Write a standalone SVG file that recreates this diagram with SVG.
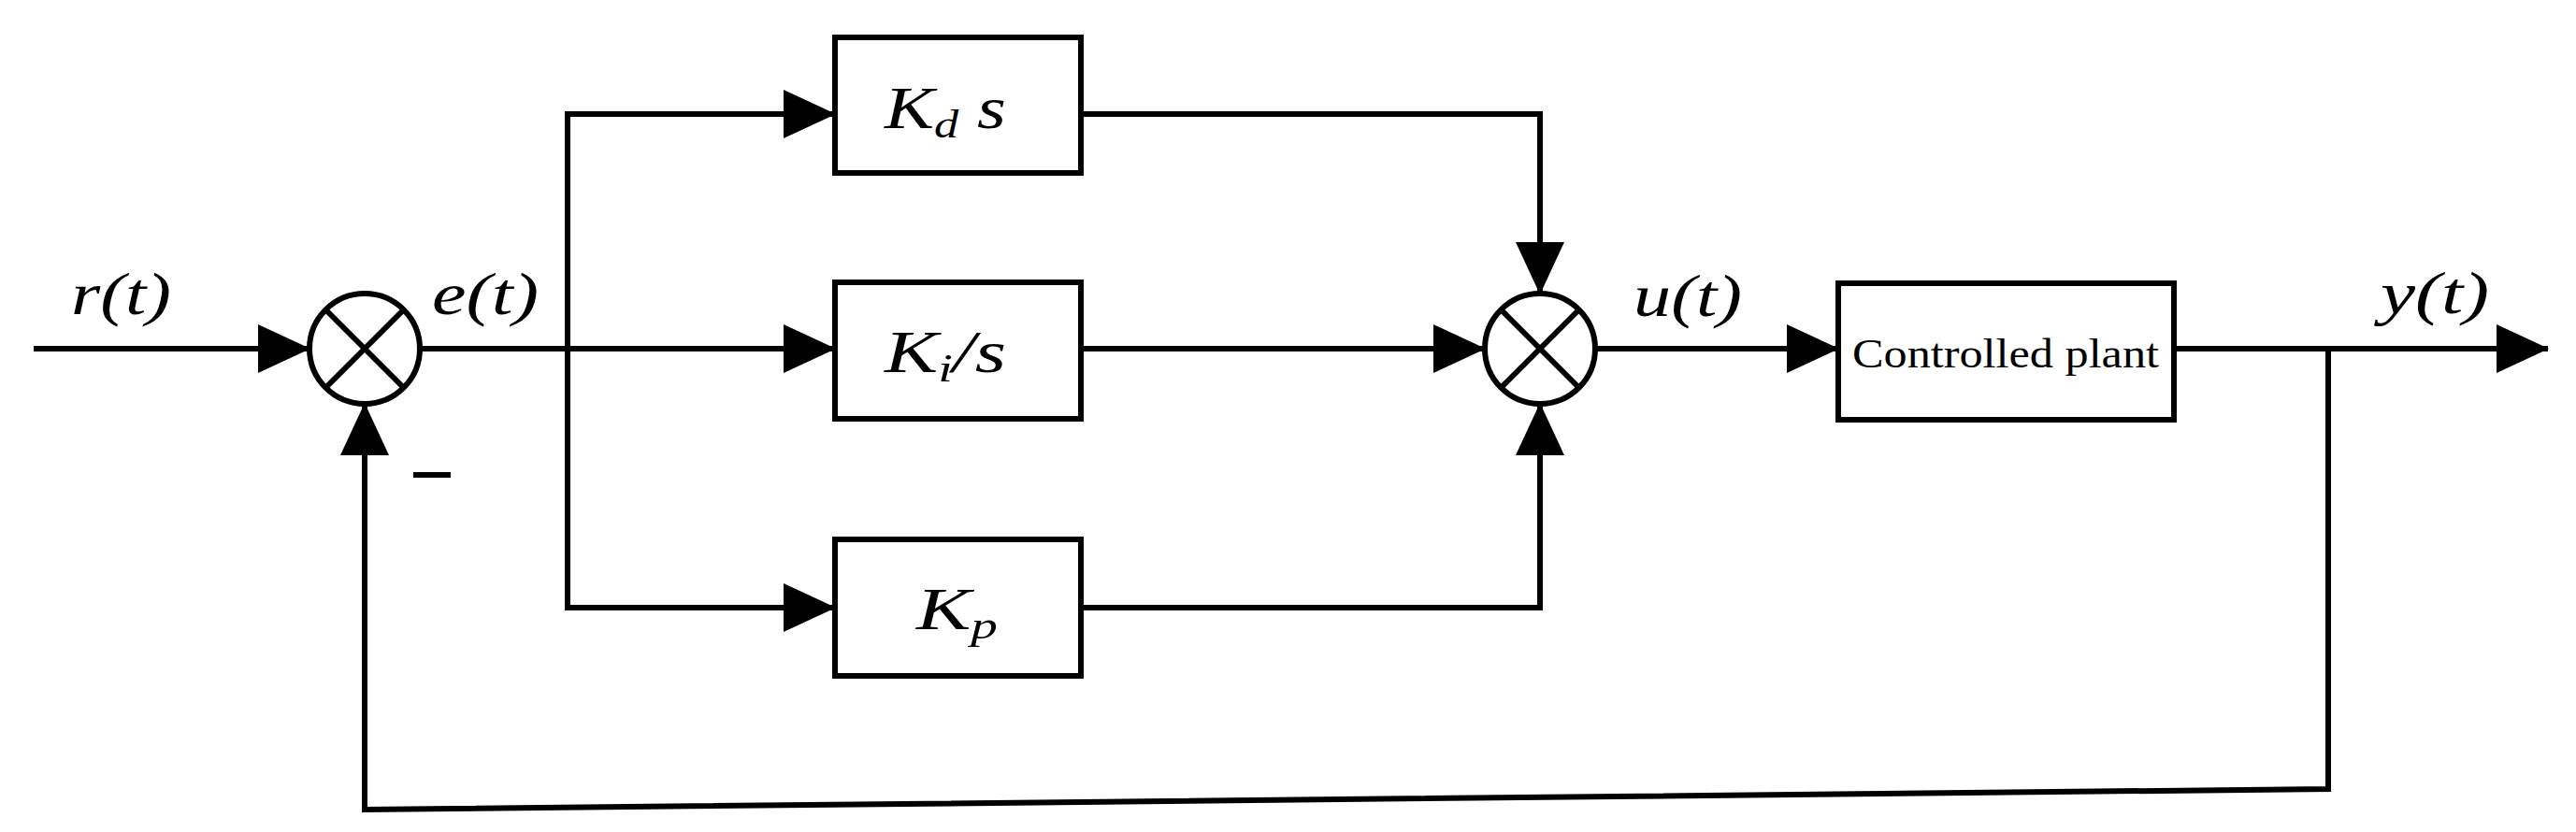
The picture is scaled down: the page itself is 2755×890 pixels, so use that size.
<svg xmlns="http://www.w3.org/2000/svg" width="2755" height="890" viewBox="0 0 2755 890">
<style>
.ln{fill:none;stroke:#000;stroke-width:6}
.bx{fill:#fff;stroke:#000;stroke-width:6}
.lb{font-family:"Liberation Serif",serif;font-style:italic;font-size:64px}
.pl{font-family:"Liberation Serif",serif;font-size:44px}
</style>
<defs>
<marker id="ar" markerUnits="userSpaceOnUse" markerWidth="56" markerHeight="52" refX="55" refY="26" orient="auto"><path d="M0,0 L56,26 L0,52 Z" fill="#000"/></marker>
</defs>
<g id="connectors">
<line class="ln" x1="36" y1="373" x2="331" y2="373" marker-end="url(#ar)"/>
<line class="ln" x1="449" y1="373" x2="893" y2="373" marker-end="url(#ar)"/>
<polyline class="ln" points="607,373 607,122 893,122" marker-end="url(#ar)"/>
<polyline class="ln" points="607,373 607,650 893,650" marker-end="url(#ar)"/>
<polyline class="ln" points="1156,122 1647,122 1647,314" marker-end="url(#ar)"/>
<line class="ln" x1="1156" y1="373" x2="1588" y2="373" marker-end="url(#ar)"/>
<polyline class="ln" points="1145,650 1647,650 1647,432" marker-end="url(#ar)"/>
<line class="ln" x1="1706" y1="373" x2="1966" y2="373" marker-end="url(#ar)"/>
<line class="ln" x1="2325" y1="373" x2="2725" y2="373" marker-end="url(#ar)"/>
<polyline class="ln" points="2490,373 2490,844 390,866 390,432" marker-end="url(#ar)"/>
</g>
<g id="sum1"><circle class="bx" cx="390" cy="373" r="59"/><path class="ln" d="M348,331 L432,415 M432,331 L348,415"/></g>
<g id="sum2"><circle class="bx" cx="1647" cy="373" r="59"/><path class="ln" d="M1605,331 L1689,415 M1689,331 L1605,415"/></g>
<g id="kd"><rect class="bx" x="893" y="40" width="263" height="145"/><text class="lb" x="946" y="137" textLength="130" lengthAdjust="spacingAndGlyphs">K<tspan font-size="42" dy="10">d</tspan><tspan dy="-10"> s</tspan></text></g>
<g id="ki"><rect class="bx" x="893" y="302" width="263" height="146"/><text class="lb" x="946" y="398" textLength="130" lengthAdjust="spacingAndGlyphs">K<tspan font-size="42" dy="10">i</tspan><tspan dy="-10">/s</tspan></text></g>
<g id="kp"><rect class="bx" x="893" y="577" width="263" height="146"/><text class="lb" x="980" y="673" textLength="87" lengthAdjust="spacingAndGlyphs">K<tspan font-size="42" dy="10">p</tspan></text></g>
<g id="plant"><rect class="bx" x="1966" y="303" width="359" height="146"/><text class="pl" x="2145" y="393" text-anchor="middle" textLength="328" lengthAdjust="spacingAndGlyphs">Controlled plant</text></g>
<g id="labels">
<text class="lb" x="76" y="336" textLength="107" lengthAdjust="spacingAndGlyphs">r(t)</text>
<text class="lb" x="462" y="336" textLength="114" lengthAdjust="spacingAndGlyphs">e(t)</text>
<text class="lb" x="1747" y="338" textLength="116" lengthAdjust="spacingAndGlyphs">u(t)</text>
<text class="lb" x="2546" y="335" textLength="116" lengthAdjust="spacingAndGlyphs">y(t)</text>
<line class="ln" x1="442" y1="508" x2="482" y2="508" stroke-width="4"/>
</g>
</svg>
